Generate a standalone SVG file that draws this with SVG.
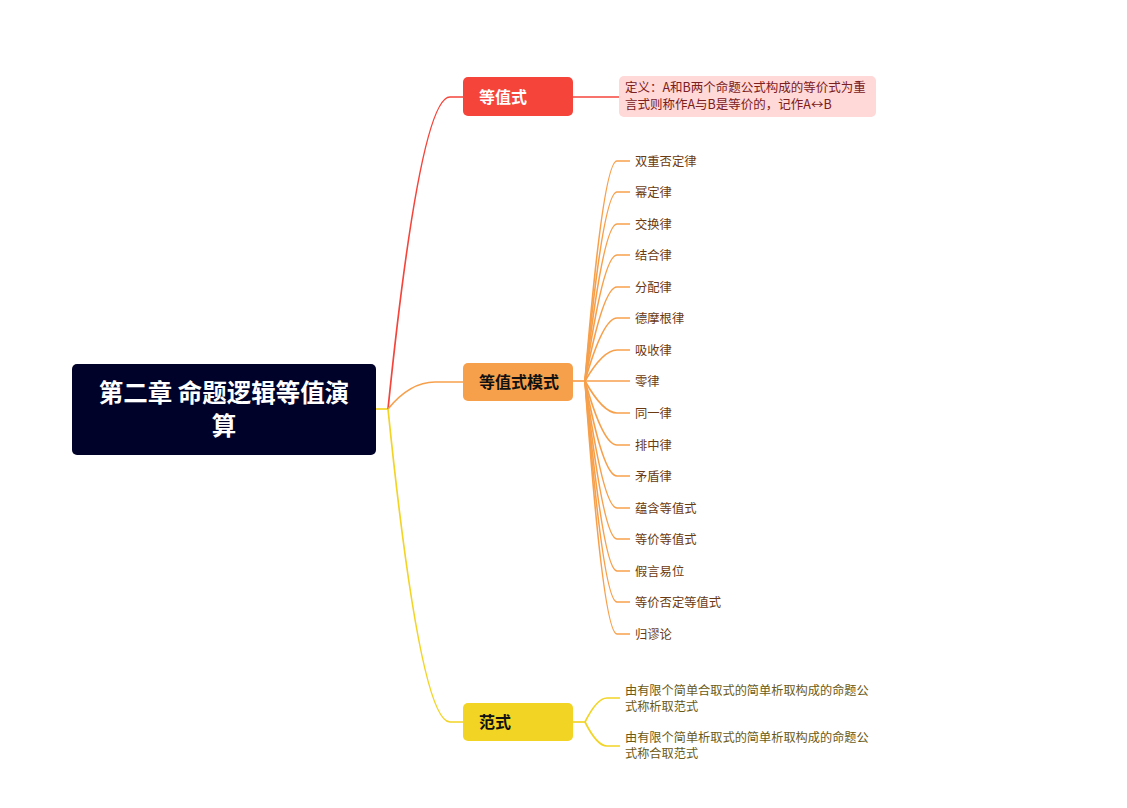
<svg xmlns="http://www.w3.org/2000/svg" width="1127" height="808" viewBox="0 0 1127 808">
<style>
text{font-family:"Noto Sans CJK SC","Liberation Sans",sans-serif;}
.root{font-size:24.5px;font-weight:bold;fill:#ffffff;}
.main{font-size:16px;font-weight:bold;}
.leaf{font-size:12.3px;fill:#6b3a10;}
.leafy{font-size:12.2px;fill:#6b5a14;}
.def{font-size:12.5px;fill:#7a2020;}
.lr{fill:none;stroke:#f5443a;stroke-width:1.7;}
.lo{fill:none;stroke:#f7a04c;stroke-width:1.7;}
.ly{fill:none;stroke:#f2d425;stroke-width:1.7;}
</style>
<rect width="1127" height="808" fill="#ffffff"/>
<g id="connectors">
<path class="ly" d="M376,409 L388,409"/>
<path class="lr" d="M388,409 Q420,97 450,97 L463,97"/>
<path class="lr" d="M573,97 L619,97"/>
<path class="lo" d="M388,409 Q410,382 435,382 L463,382"/>
<path class="ly" d="M388,409 Q420,722 450,722 L463,722"/>
<path class="lo" d="M573,381 L585,381"/>
<path class="lo" d="M585,381 Q603,161 617,161 L630,161"/>
<path class="lo" d="M585,381 Q603,192 617,192 L630,192"/>
<path class="lo" d="M585,381 Q603,224 617,224 L630,224"/>
<path class="lo" d="M585,381 Q603,255 617,255 L630,255"/>
<path class="lo" d="M585,381 Q603,287 617,287 L630,287"/>
<path class="lo" d="M585,381 Q603,318 617,318 L630,318"/>
<path class="lo" d="M585,381 Q603,350 617,350 L630,350"/>
<path class="lo" d="M585,381 L630,381"/>
<path class="lo" d="M585,381 Q603,413 617,413 L630,413"/>
<path class="lo" d="M585,381 Q603,445 617,445 L630,445"/>
<path class="lo" d="M585,381 Q603,476 617,476 L630,476"/>
<path class="lo" d="M585,381 Q603,508 617,508 L630,508"/>
<path class="lo" d="M585,381 Q603,539 617,539 L630,539"/>
<path class="lo" d="M585,381 Q603,571 617,571 L630,571"/>
<path class="lo" d="M585,381 Q603,602 617,602 L630,602"/>
<path class="lo" d="M585,381 Q603,634 617,634 L630,634"/>
<path class="ly" d="M573,722 L585,722"/>
<path class="ly" d="M585,722 Q597,698 607,698 L620,698"/>
<path class="ly" d="M585,722 Q597,746 607,746 L620,746"/>
</g>
<g id="root">
<rect x="72" y="364" width="304" height="91" rx="5" fill="#000229"/>
<text class="root" x="224" y="402" text-anchor="middle">第二章 命题逻辑等值演</text>
<text class="root" x="224" y="435" text-anchor="middle">算</text>
</g>
<g id="n-dengzhishi">
<rect x="463" y="77" width="110" height="39" rx="5" fill="#f5443a"/>
<text class="main" x="479" y="103" fill="#ffffff">等值式</text>
</g>
<g id="n-def">
<rect x="619" y="76" width="257" height="41" rx="5" fill="#ffd8d8"/>
<text class="def" x="625" y="92">定义：A和B两个命题公式构成的等价式为重</text>
<text class="def" x="625" y="109">言式则称作A与B是等价的，记作A↔B</text>
</g>
<g id="n-moshi">
<rect x="463" y="363" width="110" height="38" rx="5" fill="#f7a04c"/>
<text class="main" x="479" y="388" fill="#111111">等值式模式</text>
</g>
<g id="n-fanshi">
<rect x="463" y="703" width="110" height="38" rx="5" fill="#f2d425"/>
<text class="main" x="479" y="728" fill="#111111">范式</text>
</g>
<g id="leaves-moshi">
<text class="leaf" x="635" y="166">双重否定律</text>
<text class="leaf" x="635" y="197">幂定律</text>
<text class="leaf" x="635" y="229">交换律</text>
<text class="leaf" x="635" y="260">结合律</text>
<text class="leaf" x="635" y="292">分配律</text>
<text class="leaf" x="635" y="323">德摩根律</text>
<text class="leaf" x="635" y="355">吸收律</text>
<text class="leaf" x="635" y="386">零律</text>
<text class="leaf" x="635" y="418">同一律</text>
<text class="leaf" x="635" y="450">排中律</text>
<text class="leaf" x="635" y="481">矛盾律</text>
<text class="leaf" x="635" y="513">蕴含等值式</text>
<text class="leaf" x="635" y="544">等价等值式</text>
<text class="leaf" x="635" y="576">假言易位</text>
<text class="leaf" x="635" y="607">等价否定等值式</text>
<text class="leaf" x="635" y="639">归谬论</text>
</g>
<g id="leaves-fanshi">
<text class="leafy" x="625" y="695">由有限个简单合取式的简单析取构成的命题公</text>
<text class="leafy" x="625" y="711">式称析取范式</text>
<text class="leafy" x="625" y="742">由有限个简单析取式的简单析取构成的命题公</text>
<text class="leafy" x="625" y="758">式称合取范式</text>
</g>
</svg>
